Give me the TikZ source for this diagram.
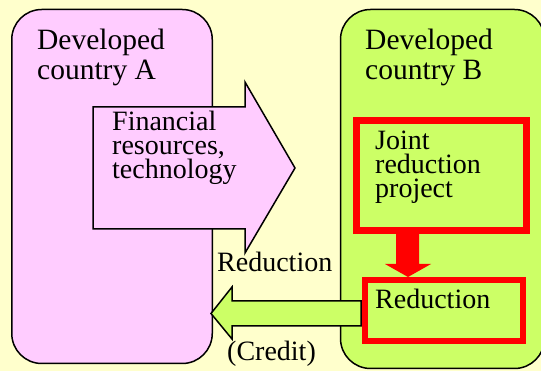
\documentclass[tikz,border=0pt]{standalone}
\usepackage{fontspec}
\setmainfont{Liberation Serif}
\definecolor{bgyellow}{HTML}{FFFFCC}
\definecolor{pinkA}{HTML}{FFCCFF}
\definecolor{greenB}{HTML}{CCFF66}

\begin{document}
\begin{tikzpicture}[%
    x=1pt, y=-1pt,
    country/.style={
        draw,
        rectangle,
        line width = 1.5,
        rounded corners = 30},
    project/.style={%
        draw = red,
        rectangle},
    blockarrow/.style={%
        draw,
        line width = 1.5,
        line join = miter},
    txt/.style={%
        anchor = base west,
        inner sep = 0,
        align = left,
        font = \fontsize{28}{24}\selectfont},
    title/.style={%
        txt,
        font = \fontsize{29.5}{30}\selectfont},
]

\fill[bgyellow] (0,0) rectangle (541,371);
\useasboundingbox (0,0) rectangle (541,371);
\clip (0,0) rectangle (541,371);

% the two countries
\node[country, fill=pinkA, minimum width=200.5, minimum height=354] (ctryA) at (112,186.5) {};
\node[country, fill=greenB, minimum width=204, minimum height=359] (ctryB) at (442.5,189) {};

% money and technology from A to B
\draw[blockarrow, fill=pinkA] (93,107) -- (245,107) -- (245,82) -- (295,168)
        -- (245,253) -- (245,229) -- (93,229) -- cycle;

% the project inside B
\node[project, line width=7, minimum width=170, minimum height=110] (joint) at (441.5,175.5) {};
\node[project, line width=6, minimum width=158, minimum height=61] (reduct) at (444,310.5) {};
\fill[red] (396,234) -- (419,234) -- (419,264) -- (431,264) -- (408,277)
        -- (385,264) -- (396,264) -- cycle;

% credit back to A
\draw[blockarrow, fill=greenB] (361,301) -- (232,301) -- (232,287) -- (211,313.5)
        -- (232,339) -- (232,326) -- (361,326) -- cycle;

% texts (anchored at the last line)
\node[title] (titleA) at (37,80) {Developed\\country A};
\node[title] (titleB) at (365,80) {Developed\\country B};
\node[txt, font=\fontsize{28}{23.5}\selectfont] (money) at (112,179) {Financial\\resources,\\technology};
\node[txt] (jointtxt) at (375,198) {Joint\\reduction\\project};
\node[txt] (reducttxt) at (375,309) {Reduction};
\node[txt] (reductlbl) at (217,272) {Reduction};
\node[txt] (credit) at (227,361) {(Credit)};
\end{tikzpicture}
\end{document}
